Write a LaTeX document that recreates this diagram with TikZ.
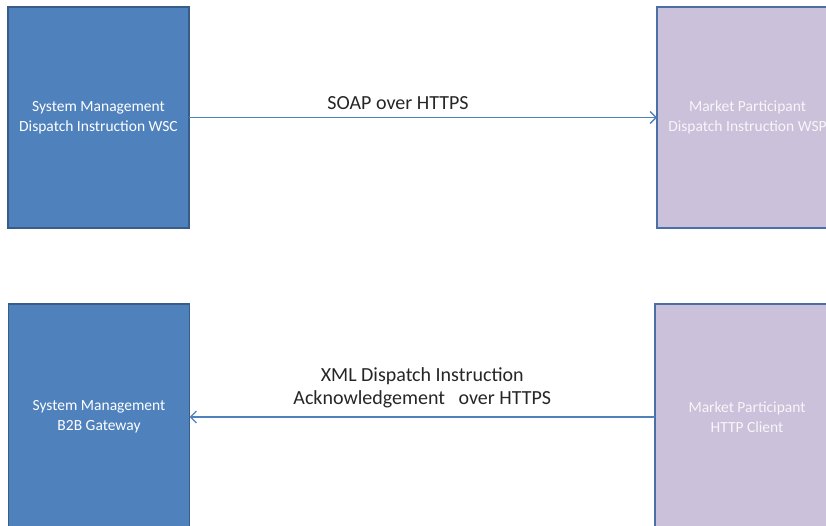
\documentclass[tikz,border=0pt]{standalone}
\usepackage{fontspec}
\setmainfont{Carlito}
\usepackage{tikz}
\usetikzlibrary{arrows.meta,positioning}
\definecolor{smblue}{HTML}{4F81BD}
\definecolor{smedge}{HTML}{385D8A}
\definecolor{mplilac}{HTML}{CCC1DA}
\definecolor{mpedge}{HTML}{4A6FA5}
\tikzstyle{smbox} = [rectangle, minimum width=181pt, minimum height=221pt, text centered, align=center, fill=smblue, draw=smedge, line width=1.5pt, outer sep=0pt, text=white, font=\fontsize{15.5}{20}\selectfont]
\tikzstyle{mpbox} = [rectangle, minimum width=181pt, minimum height=221pt, text centered, align=center, fill=mplilac, draw=mpedge, line width=1.5pt, outer sep=0pt, text=white!85!mplilac, font=\fontsize{15.5}{20}\selectfont]
\tikzstyle{line} = [draw, line width=1.2pt, color=smblue, -{Straight Barb[length=6pt,width=12pt,line width=1.4pt]}]
\tikzstyle{proto} = [align=center, text=black!85, font=\fontsize{20}{23}\selectfont]

\begin{document}
\begin{tikzpicture}[x=1pt,y=-1pt]
  \useasboundingbox (0,0) rectangle (826,526);
  \clip (0,0) rectangle (826,526);
  \node (smwsc) [smbox] at (98.5,117.5) {System Management\\Dispatch Instruction WSC};
  \node (mpwsp) [mpbox] at (747.5,117.5) {Market Participant\\Dispatch Instruction WSP};
  \draw [line] (smwsc) -- node [proto, above, xshift=-25pt, yshift=4pt] {SOAP over HTTPS} (mpwsp);
  \node (smgw) [smbox, minimum height=226pt] at (99,417) {System Management\\B2B Gateway};
  \node (mpclient) [mpbox, minimum width=184pt, minimum height=226pt] at (747,417) {Market Participant\\HTTP Client};
  \draw [line] (mpclient) -- node [proto, above, yshift=5pt] {XML Dispatch Instruction\\Acknowledgement\ \ \ over HTTPS} (smgw);
\end{tikzpicture}
\end{document}
